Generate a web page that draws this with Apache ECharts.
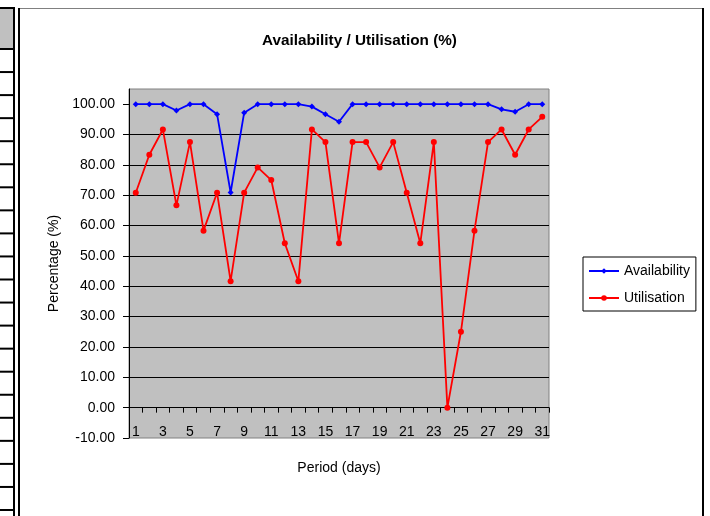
<!DOCTYPE html>
<html>
<head>
<meta charset="utf-8">
<script src="https://cdn.jsdelivr.net/npm/echarts@6/dist/echarts.min.js"></script>
<style>html,body{margin:0;padding:0;background:#fff}#c{width:710px;height:516px}</style>
</head>
<body>
<div id="c"></div>
<script>
var days = ['1','2','3','4','5','6','7','8','9','10','11','12','13','14','15','16','17','18','19','20','21','22','23','24','25','26','27','28','29','30','31'];
var availability = [100,100,100,97.9,100,100,96.7,70.9,97.2,100,100,100,100,99.2,96.7,94.2,100,100,100,100,100,100,100,100,100,100,100,98.3,97.5,100,100];
var utilisation = [70.83,83.33,91.67,66.67,87.5,58.33,70.83,41.67,70.83,79.17,75,54.17,41.67,91.67,87.5,54.17,87.5,87.5,79.17,87.5,70.83,54.17,87.5,0,25,58.33,87.5,91.67,83.33,91.67,95.83];
var yTicks = [-10,0,10,20,30,40,50,60,70,80,90,100];

var FONT = 'Liberation Sans, Arial, sans-serif';
var chart = echarts.init(document.getElementById('c'), null, {renderer: 'canvas'});

var graphics = [];
// spreadsheet stripe on the left
graphics.push({type: 'rect', shape: {x: 0, y: 8, width: 13, height: 41}, style: {fill: '#c0c0c0'}, silent: true});
for (var i = 0; i <= 21; i++) {
  var yy = i === 0 ? 8 : 49 + (i - 1) * 23.05;
  if (yy > 516) break;
  graphics.push({type: 'line', shape: {x1: 0, y1: yy, x2: 14, y2: yy}, style: {stroke: '#000', lineWidth: 2}, silent: true});
}
graphics.push({type: 'line', shape: {x1: 14, y1: 7, x2: 14, y2: 516}, style: {stroke: '#000', lineWidth: 2}, silent: true});
// chart frame
graphics.push({type: 'line', shape: {x1: 19, y1: 8.5, x2: 703, y2: 8.5}, style: {stroke: '#808080', lineWidth: 1}, silent: true});
graphics.push({type: 'line', shape: {x1: 19, y1: 8, x2: 19, y2: 516}, style: {stroke: '#000', lineWidth: 2}, silent: true});
graphics.push({type: 'line', shape: {x1: 703, y1: 8, x2: 703, y2: 516}, style: {stroke: '#000', lineWidth: 2}, silent: true});

chart.setOption({
  animation: false,
  backgroundColor: '#fff',
  textStyle: {fontFamily: FONT},
  title: {
    text: 'Availability / Utilisation (%)',
    left: 262, top: 33, padding: 0,
    textStyle: {fontFamily: FONT, fontSize: 15.3, fontWeight: 'bold', color: '#000'}
  },
  legend: {
    orient: 'vertical',
    left: 583, top: 257,
    padding: [6, 6, 5, 5],
    itemGap: 11,
    itemWidth: 30, itemHeight: 7,
    borderColor: '#000', borderWidth: 1,
    backgroundColor: '#fff',
    textStyle: {fontFamily: FONT, fontSize: 14, color: '#000', lineHeight: 16},
    data: ['Availability', 'Utilisation']
  },
  grid: {
    left: 129, right: 161, top: 89, bottom: 78,
    show: true, backgroundColor: '#c0c0c0', borderColor: '#808080', borderWidth: 1,
    containLabel: false
  },
  xAxis: {
    type: 'category',
    data: days,
    boundaryGap: true,
    name: 'Period (days)',
    nameLocation: 'middle',
    nameGap: 23,
    nameTextStyle: {fontFamily: FONT, fontSize: 14, color: '#000'},
    axisLine: {show: true, onZero: true, lineStyle: {color: '#000', width: 1}},
    axisTick: {show: true, interval: 0, length: 5, lineStyle: {color: '#000'}},
    axisLabel: {interval: 1, margin: -13, fontFamily: FONT, fontSize: 14, color: '#000'},
    splitLine: {show: false}
  },
  yAxis: {
    type: 'value',
    min: -10, max: 105, interval: 10,
    name: 'Percentage (%)',
    nameLocation: 'middle',
    nameGap: 65,
    nameTextStyle: {fontFamily: FONT, fontSize: 14, color: '#000'},
    axisLine: {show: true, lineStyle: {color: '#000', width: 1}},
    axisTick: {show: true, length: 6, inside: false, customValues: yTicks, lineStyle: {color: '#000'}},
    axisLabel: {
      margin: 14, fontFamily: FONT, fontSize: 14, color: '#000',
      customValues: yTicks,
      formatter: function (v) { return v > 100 ? '' : Number(v).toFixed(2); }
    },
    splitLine: {show: true, showMinLine: false, showMaxLine: false, lineStyle: {color: '#000', width: 1}}
  },
  series: [
    {
      name: 'Availability', type: 'line', data: availability,
      symbol: 'diamond', symbolSize: 6, showSymbol: true,
      lineStyle: {color: '#0000ff', width: 1.8},
      itemStyle: {color: '#0000ff'},
      z: 3
    },
    {
      name: 'Utilisation', type: 'line', data: utilisation,
      symbol: 'circle', symbolSize: 6, showSymbol: true,
      lineStyle: {color: '#ff0000', width: 1.8},
      itemStyle: {color: '#ff0000'},
      z: 2
    }
  ],
  graphic: graphics
});
</script>
</body>
</html>
